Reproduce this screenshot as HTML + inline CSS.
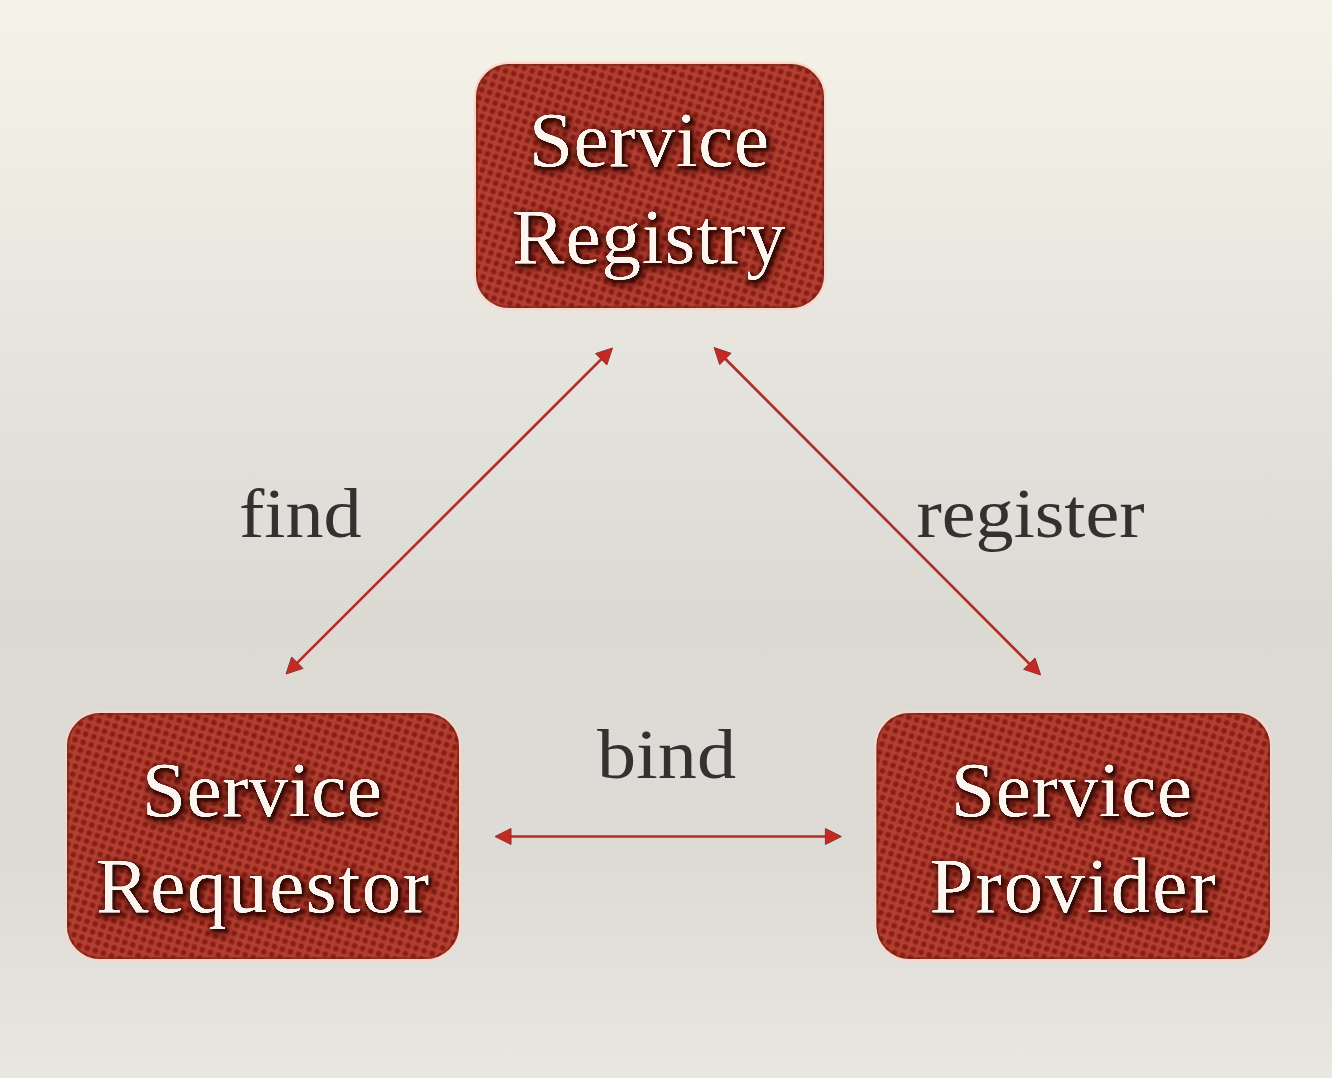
<!DOCTYPE html>
<html><head><meta charset="utf-8"><style>
html,body{margin:0;padding:0;width:1332px;height:1078px;overflow:hidden;}
body{background:#e4e1dc;}
svg{display:block;}
.bt{font-family:"Liberation Serif",serif;fill:#fbf3ee;}
.lb{font-family:"Liberation Serif",serif;fill:#333231;}
.al{stroke:#a8302a;stroke-width:2.6;}
.alh{stroke:#f7cfc6;stroke-width:5;stroke-opacity:0.45;}
.ah{fill:#c42a25;stroke:#93302a;stroke-width:1;stroke-linejoin:miter;}
</style></head><body>
<svg width="1332" height="1078" viewBox="0 0 1332 1078">
<defs>
<linearGradient id="bg" x1="0" y1="0" x2="0" y2="1">
<stop offset="0" stop-color="#f5f2e8"/>
<stop offset="0.14" stop-color="#f0ede4"/>
<stop offset="0.28" stop-color="#e9e6e0"/>
<stop offset="0.42" stop-color="#e2e0db"/>
<stop offset="0.56" stop-color="#dddad4"/>
<stop offset="0.79" stop-color="#dddbd6"/>
<stop offset="0.89" stop-color="#e3e0db"/>
<stop offset="1" stop-color="#eae7e1"/>
</linearGradient>
<radialGradient id="dotg">
<stop offset="0" stop-color="#851c12"/>
<stop offset="0.5" stop-color="#8a1f15"/>
<stop offset="1" stop-color="#8a1f15" stop-opacity="0"/>
</radialGradient>
<pattern id="dots" width="8.45" height="8.45" patternUnits="userSpaceOnUse" patternTransform="rotate(18)">
<rect width="8.45" height="8.45" fill="#b23f31"/>
<circle cx="4.22" cy="4.22" r="3.8" fill="url(#dotg)"/>
</pattern>
<filter id="ts" x="-10%" y="-20%" width="130%" height="150%">
<feGaussianBlur in="SourceAlpha" stdDeviation="1.2" result="b1"/>
<feOffset in="b1" dx="1.5" dy="2" result="o1"/>
<feFlood flood-color="#2a0a06" flood-opacity="0.9"/>
<feComposite in2="o1" operator="in" result="s1"/>
<feMorphology in="SourceAlpha" operator="dilate" radius="2" result="d2"/>
<feGaussianBlur in="d2" stdDeviation="3.5" result="b2"/>
<feOffset in="b2" dx="2" dy="2.5" result="o2"/>
<feFlood flood-color="#3a100a" flood-opacity="0.9"/>
<feComposite in2="o2" operator="in" result="s2"/>
<feGaussianBlur in="SourceAlpha" stdDeviation="0.7" result="ba"/>
<feComponentTransfer in="ba" result="thin"><feFuncA type="linear" slope="2.4" intercept="-0.85"/></feComponentTransfer>
<feFlood flood-color="#fcf5f0"/>
<feComposite in2="thin" operator="in" result="txt"/>
<feMerge><feMergeNode in="s2"/><feMergeNode in="s1"/><feMergeNode in="txt"/></feMerge>
</filter>
</defs>
<rect width="1332" height="1078" fill="url(#bg)"/>
<rect x="475" y="63" width="350" height="246" rx="34" ry="34" fill="none" stroke="#fbd5c8" stroke-opacity="0.95" stroke-width="2.4"/>
<rect x="476" y="64" width="348" height="244" rx="33" ry="33" fill="url(#dots)"/>
<rect x="477" y="65" width="346" height="242" rx="32" ry="32" fill="none" stroke="#6e2418" stroke-opacity="0.55" stroke-width="2"/>
<rect x="66" y="712" width="394" height="248" rx="34" ry="34" fill="none" stroke="#fbd5c8" stroke-opacity="0.95" stroke-width="2.4"/>
<rect x="67" y="713" width="392" height="246" rx="33" ry="33" fill="url(#dots)"/>
<rect x="68" y="714" width="390" height="244" rx="32" ry="32" fill="none" stroke="#6e2418" stroke-opacity="0.55" stroke-width="2"/>
<rect x="875.5" y="712" width="395.5" height="248" rx="34" ry="34" fill="none" stroke="#fbd5c8" stroke-opacity="0.95" stroke-width="2.4"/>
<rect x="876.5" y="713" width="393.5" height="246" rx="33" ry="33" fill="url(#dots)"/>
<rect x="877.5" y="714" width="391.5" height="244" rx="32" ry="32" fill="none" stroke="#6e2418" stroke-opacity="0.55" stroke-width="2"/>
<g filter="url(#ts)">
<text class="bt" x="529.0" y="165.9" font-size="79" textLength="240.0" lengthAdjust="spacing">Service</text>
<text class="bt" x="512.0" y="262.9" font-size="79" textLength="273.6" lengthAdjust="spacing">Registry</text>
<text class="bt" x="142.0" y="815.5" font-size="79" textLength="239.8" lengthAdjust="spacing">Service</text>
<text class="bt" x="96.0" y="912.0" font-size="79" textLength="333.1" lengthAdjust="spacing">Requestor</text>
<text class="bt" x="951.0" y="815.5" font-size="79" textLength="241.2" lengthAdjust="spacing">Service</text>
<text class="bt" x="929.5" y="912.0" font-size="79" textLength="286.2" lengthAdjust="spacing">Provider</text>
</g>
<text class="lb" x="239.0" y="537.3" font-size="70" textLength="122.7" lengthAdjust="spacingAndGlyphs">find</text>
<text class="lb" x="916.5" y="537.3" font-size="70" textLength="228.1" lengthAdjust="spacingAndGlyphs">register</text>
<text class="lb" x="597.0" y="777.6" font-size="70" textLength="139.1" lengthAdjust="spacingAndGlyphs">bind</text>
<line class="alh" x1="295.9" y1="664.1" x2="602.6" y2="357.9"/><line class="al" x1="295.9" y1="664.1" x2="602.6" y2="357.9"/><polygon class="ah" points="286.0,674.0 291.7,657.0 303.0,668.4"/><polygon class="ah" points="612.5,348.0 606.8,365.0 595.5,353.6"/>
<line class="alh" x1="724.0" y1="357.5" x2="1030.7" y2="665.1"/><line class="al" x1="724.0" y1="357.5" x2="1030.7" y2="665.1"/><polygon class="ah" points="714.1,347.6 731.1,353.3 719.7,364.6"/><polygon class="ah" points="1040.6,675.0 1023.6,669.3 1035.0,658.0"/>
<line class="alh" x1="509.0" y1="836.5" x2="827.4" y2="836.5"/><line class="al" x1="509.0" y1="836.5" x2="827.4" y2="836.5"/><polygon class="ah" points="495.0,836.5 511.0,828.5 511.0,844.5"/><polygon class="ah" points="841.4,836.5 825.4,844.5 825.4,828.5"/>
</svg>
</body></html>
